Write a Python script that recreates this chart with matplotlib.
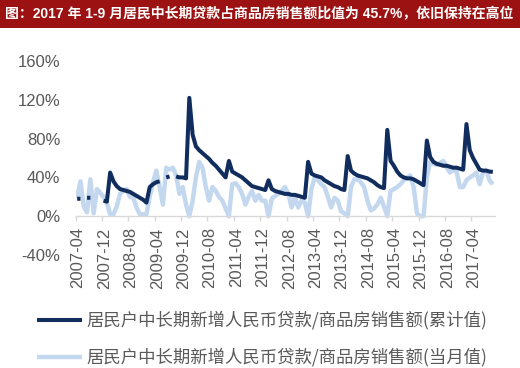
import numpy as np
import matplotlib
matplotlib.use("Agg")
import matplotlib.pyplot as plt
from matplotlib.patches import Rectangle
from matplotlib.transforms import ScaledTranslation

# ---- data (monthly, 2007-04 .. 2017-10), values in % ----
nan = np.nan
cum_ratio = [
    18, 18, nan, 19, 19, nan, nan, nan, 16,              # 2007 Apr-Dec
    15, 45, 36, 31, 28, 27, 26, 25, 23, 21, 19, 17,      # 2008
    14, 30, 33, 35, 36, nan, 40, 41, nan, 41, 40, 40,    # 2009
    39, 122, 84, 72, 68, 65, 62, 59, 55, 52, 48, 44,     # 2010
    40, 57, 46, 44, 42, 40, 37, 34, 31, 30, 29, 28,      # 2011
    27, 37, 28, 26, 25, 24, 23, 23, 22, 22, 21, 20,      # 2012
    19, 56, 44, 42, 41, 40, 37, 35, 33, 31, 30, 28,      # 2013
    27, 62, 47, 44, 42, 41, 40, 39, 37, 35, 32, 30,      # 2014
    29, 89, 57, 52, 46, 42, 40, 39, 39, 38, 36, 34,      # 2015
    32, 78, 61, 56, 54, 53, 52, 52, 51, 50, 50, 49,      # 2016
    48, 95, 68, 60, 54, 48, 47, 47, 46, 45.7,            # 2017 Jan-Oct
]
month_ratio = [
    19, 36, 10, 4, 38, 3, 28, 24, 20,                    # 2007 Apr-Dec
    14, 2, 2, 10, 23, 26, 28, 20, 19, 9, 2, 2,           # 2008
    2, 20, 35, 47, 30, 12, 50, 48, 50, 42, 23, 30,       # 2009
    12, 0, 16, 40, 56, 50, 30, 16, 30, 26, 20, 16,       # 2010
    8, 0, 33, 34, 30, 23, 12, 20, 26, 16, 22, 16,        # 2011
    16, 0, 18, 21, 23, 26, 30, 23, 9, 20, 9, 16,         # 2012
    14, 0, 28, 40, 37, 33, 30, 20, 9, 19, 16, 5,         # 2013
    3, 0, 30, 38, 38, 35, 30, 16, 6, 8, 12, 19,          # 2014
    10, 0, 26, 28, 30, 33, 37, 40, 42, 30, 3, 0,         # 2015
    0, 40, 56, 54, 53, 55, 57, 50, 45, 48, 46, 30,       # 2016
    30, 37, 40, 42, 45, 33, 45, 47, 37, 33,              # 2017 Jan-Oct
]
tick_labels = ['2007-04', '2007-12', '2008-08', '2009-04', '2009-12', '2010-08',
               '2011-04', '2011-12', '2012-08', '2013-04', '2013-12', '2014-08',
               '2015-04', '2015-12', '2016-08', '2017-04']
y_ticks = [-40, 0, 40, 80, 120, 160]

label_cum = '居民户中长期新增人民币贷款/商品房销售额(累计值)'
label_month = '居民户中长期新增人民币贷款/商品房销售额(当月值)'
title = '图：2017 年 1-9 月居民中长期贷款占商品房销售额比值为 45.7%，依旧保持在高位'

# ---- styling ----
dark = '#102d5e'
light = '#c3d8ef'
grey = '#595959'
latin_cjk = ['Liberation Sans', 'Noto Sans CJK SC']

fig = plt.figure(figsize=(5.2, 3.68), dpi=100)
W, H = 520, 368

# red title bar
fig.patches.append(Rectangle((0, 1 - 28 / H), 1, 28 / H, transform=fig.transFigure,
                             facecolor='#9c1111', edgecolor='none', zorder=0))
fig.text(5 / W, 1 - 14.5 / H, title, color='white', fontsize=10, fontweight='bold',
         va='center', ha='left', family=latin_cjk)

ax = fig.add_axes([75.5 / W, 1 - 255 / H, 419 / W, 194 / H])
x = np.arange(len(cum_ratio))
ax.plot(x, month_ratio, color=light, lw=3.2, solid_capstyle='butt', zorder=2, label=label_month)
ax.plot(x, cum_ratio, color=dark, lw=2.9, solid_capstyle='butt', zorder=3, label=label_cum)

ax.set_xlim(-0.5, len(cum_ratio) - 0.5)
ax.set_ylim(-40, 160)
ax.set_yticks(y_ticks)
ax.set_yticklabels([f'{v}%' for v in y_ticks])
ax.set_xticks(np.arange(len(tick_labels)) * 8 - 0.5)
ax.set_xticklabels(tick_labels)

for s in ['top', 'right', 'left']:
    ax.spines[s].set_visible(False)
ax.spines['bottom'].set_position(('data', 0))
ax.spines['bottom'].set_color('#d9d9d9')
ax.spines['bottom'].set_linewidth(1.0)
ax.tick_params(axis='y', length=0, pad=11, labelsize=12, labelcolor=grey)
ax.tick_params(axis='x', length=3.5, width=1, color='#d9d9d9', pad=4.5,
               labelsize=12, labelcolor=grey, labelrotation=90)
nudge = ScaledTranslation(2.5 / 100, 0, fig.dpi_scale_trans)
for t in ax.get_xticklabels():
    t.set_family('Liberation Sans')
    t.set_transform(t.get_transform() + nudge)
for t in ax.get_yticklabels():
    t.set_family('Liberation Sans')

handles, labels = ax.get_legend_handles_labels()
leg = fig.legend(handles[::-1], labels[::-1], loc='upper left',
                 bbox_to_anchor=(37 / W, 1 - 311 / H), frameon=False,
                 borderpad=0, borderaxespad=0, handlelength=2.6, handletextpad=0.25,
                 labelspacing=1.05, prop={'family': 'Noto Sans CJK SC', 'size': 12.5})
for t in leg.get_texts():
    t.set_color(grey)

fig.savefig('out.png', dpi=100)
